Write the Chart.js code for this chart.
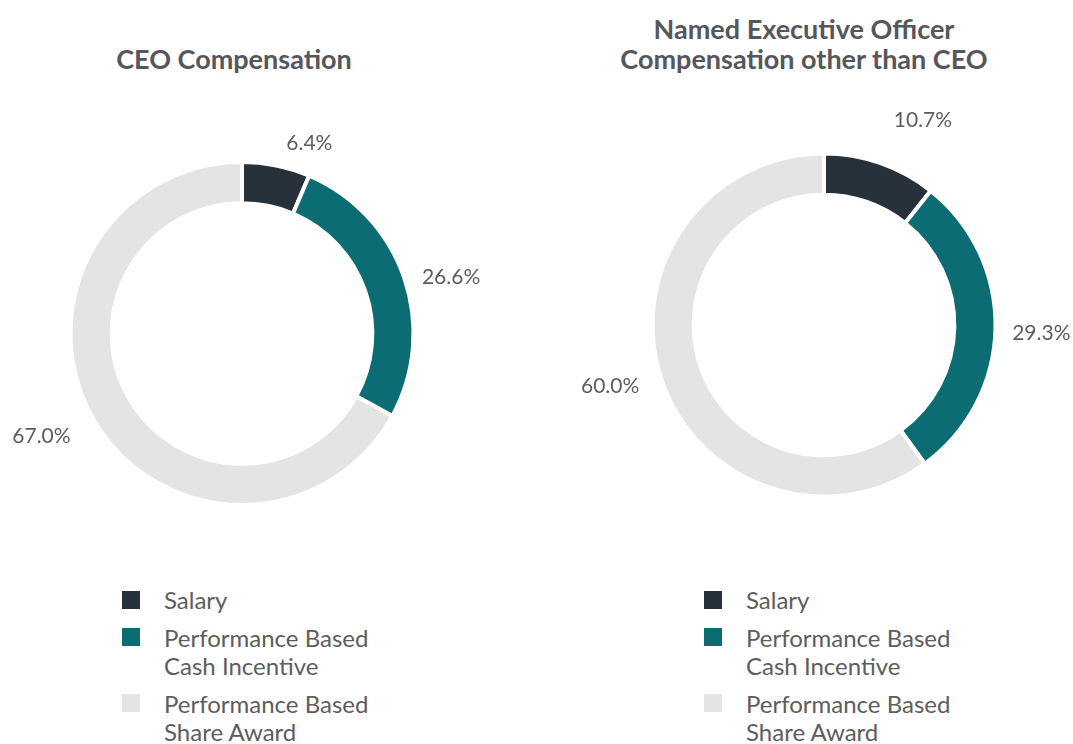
<!DOCTYPE html>
<html>
<head>
<meta charset="utf-8">
<script src="https://cdn.jsdelivr.net/npm/chart.js@4/dist/chart.umd.min.js"></script>
<style>
  body { margin: 0; background: #fff; font-family: Lato, "Open Sans", sans-serif; }
  #page { position: relative; width: 1073px; height: 744px; overflow: hidden; }
  .title { position: absolute; text-align: center; font-weight: bold; font-size: 27px; line-height: 30px; color: #55575b; }
  .box { position: absolute; }
  .legend { position: absolute; font-size: 24px; line-height: 28.5px; color: #5d5d5d; }
  .legend .item { display: flex; margin-bottom: 9px; }
  .legend .sw { width: 18px; height: 18px; margin-top: 4.5px; margin-right: 24px; flex: none; }
</style>
</head>
<body>
<div id="page">
  <div class="title" id="t0" style="left:34px; top:44px; width:400px;"></div>
  <div class="title" id="t1" style="left:604px; top:14px; width:400px;"></div>
  <div class="box" style="left:0; top:80px; width:520px; height:480px;"><canvas id="c0"></canvas></div>
  <div class="box" style="left:540px; top:80px; width:533px; height:480px;"><canvas id="c1"></canvas></div>
  <div class="legend" id="l0" style="left:122px; top:586px;"></div>
  <div class="legend" id="l1" style="left:704px; top:586px;"></div>
</div>
<script>
// data
const categories = ["Salary", "Performance Based Cash Incentive", "Performance Based Share Award"];
const legendLines = [["Salary"], ["Performance Based", "Cash Incentive"], ["Performance Based", "Share Award"]];
const ceoValues = [6.4, 26.6, 67.0];
const neoValues = [10.7, 29.3, 60.0];
const chartTitles = [["CEO Compensation"], ["Named Executive Officer", "Compensation other than CEO"]];
const sliceColors = ["#27313b", "#0b6d73", "#e4e4e4"];

// percent labels outside the ring
const outerLabels = {
    id: "outerLabels",
    afterDatasetsDraw(chart, args, opts) {
        const ctx = chart.ctx;
        const data = chart.data.datasets[0].data;
        ctx.save();
        ctx.font = "21px Lato";
        ctx.fillStyle = "#5d5d5d";
        ctx.textAlign = "center";
        ctx.textBaseline = "middle";
        chart.getDatasetMeta(0).data.forEach((arc, i) => {
            const p = arc.getProps(["x", "y", "startAngle", "endAngle", "outerRadius"], true);
            const nudge = opts.nudge[i] || [0, 40];
            const a = (p.startAngle + p.endAngle) / 2 + nudge[0] * Math.PI / 180;
            const r = p.outerRadius + nudge[1];
            ctx.fillText(data[i].toFixed(1) + "%", p.x + Math.cos(a) * r, p.y + Math.sin(a) * r);
        });
        ctx.restore();
    }
};

function makeChart(id, values, padding, nudge) {
    new Chart(document.getElementById(id), {
        type: "doughnut",
        data: {
            labels: categories,
            datasets: [{
                data: values,
                backgroundColor: sliceColors,
                borderColor: "#ffffff",
                borderWidth: 4
            }]
        },
        options: {
            responsive: true,
            maintainAspectRatio: false,
            animation: false,
            cutout: "76%",
            layout: { padding: padding },
            plugins: {
                legend: { display: false },
                tooltip: { enabled: false },
                outerLabels: { nudge: nudge }
            }
        },
        plugins: [outerLabels]
    });
}

makeChart("c0", ceoValues, { left: 68.5, right: 104.5, top: 80, bottom: 53 },
    [[8, 30], [4, 45], [3.4, 54]]);
makeChart("c1", neoValues, { left: 110.5, right: 75.5, top: 71.5, bottom: 61.5 },
    [[6.5, 56], [1, 46], [2, 51]]);

// titles and legends
["t0", "t1"].forEach((id, k) => {
    document.getElementById(id).innerHTML = chartTitles[k].join("<br>");
});
["l0", "l1"].forEach(id => {
    const el = document.getElementById(id);
    legendLines.forEach((lines, i) => {
        const item = document.createElement("div");
        item.className = "item";
        item.innerHTML = '<span class="sw" style="background:' + sliceColors[i] + '"></span><span>' + lines.join("<br>") + "</span>";
        el.appendChild(item);
    });
});
</script>
</body>
</html>
